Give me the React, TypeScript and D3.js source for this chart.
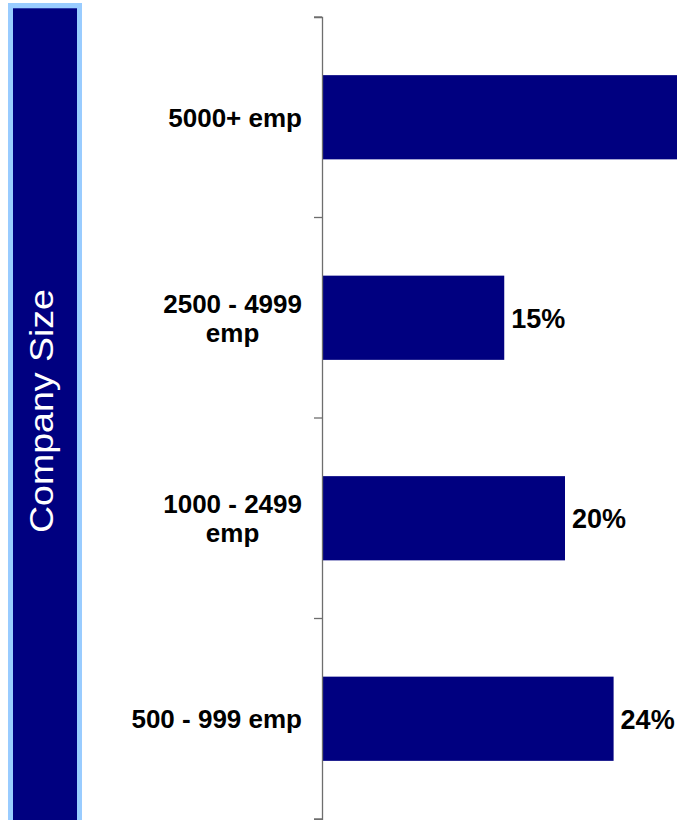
import React, { useEffect, useRef } from "react";
import * as d3 from "d3";

const categories = ["5000+ emp", "2500 - 4999 emp", "1000 - 2499 emp", "500 - 999 emp"];
const categoryLines = [["5000+ emp"], ["2500 - 4999", "emp"], ["1000 - 2499", "emp"], ["500 - 999 emp"]];
const values = [41, 15, 20, 24];
const axisTitle = "Company Size";

const W = 677;
const H = 820;
const NAVY = "#000080";
const LIGHT = "#99ccff";
const FONT = "'Liberation Sans', Arial, sans-serif";

export default function App() {
  const ref = useRef<SVGSVGElement | null>(null);

  useEffect(() => {
    const svg = d3.select(ref.current);
    svg.selectAll("*").remove();

    const y = d3.scaleBand<string>().domain(categories).range([17, 819]).paddingInner(0.58).paddingOuter(0.29);
    const x = d3.scaleLinear().domain([0, 30]).range([322, 322 + 30 * 12.15]);

    // Left title panel
    svg.append("rect").attr("x", 8).attr("y", 3).attr("width", 74).attr("height", H).attr("fill", LIGHT);
    svg.append("rect").attr("x", 13).attr("y", 8).attr("width", 64).attr("height", H).attr("fill", NAVY);
    svg.append("rect").attr("x", 13).attr("y", 8).attr("width", 64).attr("height", 1).attr("fill", "#2a3aa8");
    svg
      .append("text")
      .attr("transform", `translate(52.5,411) rotate(-90)`)
      .attr("text-anchor", "middle")
      .attr("font-family", FONT)
      .attr("font-size", 33)
      .attr("fill", "#ffffff")
      .attr("textLength", 244)
      .attr("lengthAdjust", "spacingAndGlyphs")
      .text(axisTitle);

    // Bars
    svg
      .append("g")
      .selectAll("rect")
      .data(values)
      .join("rect")
      .attr("x", x(0))
      .attr("y", (_, i) => y(categories[i])!)
      .attr("width", (d) => x(d) - x(0))
      .attr("height", y.bandwidth())
      .attr("fill", NAVY);

    // Value labels (the ones past the right edge are cropped out in the reference)
    const labelData = values
      .map((v, i) => ({ v, i }))
      .filter((d) => x(d.v) + 7 < W);
    svg
      .append("g")
      .selectAll("text")
      .data(labelData)
      .join("text")
      .attr("x", (d) => x(d.v) + 7)
      .attr("y", (d) => y(categories[d.i])! + y.bandwidth() / 2 + 10)
      .attr("font-family", FONT)
      .attr("font-weight", "bold")
      .attr("font-size", 27)
      .attr("fill", "#000")
      .text((d) => `${d.v}%`);

    // Axis
    const axis = d3.axisLeft(y).tickSize(8).tickSizeOuter(8).tickFormat(() => "");
    const gAxis = svg.append("g").attr("transform", `translate(${x(0)},0)`);
    gAxis.call(axis as any);
    gAxis.selectAll(".tick").remove();
    gAxis.select(".domain").attr("stroke", "#6e6e6e").attr("stroke-width", 1.3);
    const step = y.step();
    const boundaries = d3.range(categories.length + 1).map((i) => 17 + i * step);
    gAxis
      .selectAll("line.sep")
      .data(boundaries)
      .join("line")
      .attr("class", "sep")
      .attr("x1", -8)
      .attr("x2", 0)
      .attr("y1", (d) => d)
      .attr("y2", (d) => d)
      .attr("stroke", "#6e6e6e")
      .attr("stroke-width", 1.3);

    // Category labels
    categoryLines.forEach((lines, i) => {
      const g = svg.append("g");
      const t = g
        .append("text")
        .attr("font-family", FONT)
        .attr("font-weight", "bold")
        .attr("font-size", 26)
        .attr("text-anchor", "middle")
        .attr("fill", "#000");
      const lh = 29;
      const cy = y(categories[i])! + y.bandwidth() / 2;
      const first = cy + 9.5 - ((lines.length - 1) * lh) / 2;
      lines.forEach((ln, j) => {
        t.append("tspan").attr("x", 0).attr("y", first + j * lh).text(ln);
      });
      const bb = (t.node() as SVGTextElement).getBBox();
      const right = 302;
      g.attr("transform", `translate(${right - (bb.x + bb.width)},0)`);
    });
  }, []);

  return (
    <svg
      ref={ref}
      width={W}
      height={H}
      style={{ position: "absolute", left: 0, top: 0, background: "#ffffff", overflow: "hidden" }}
    />
  );
}
